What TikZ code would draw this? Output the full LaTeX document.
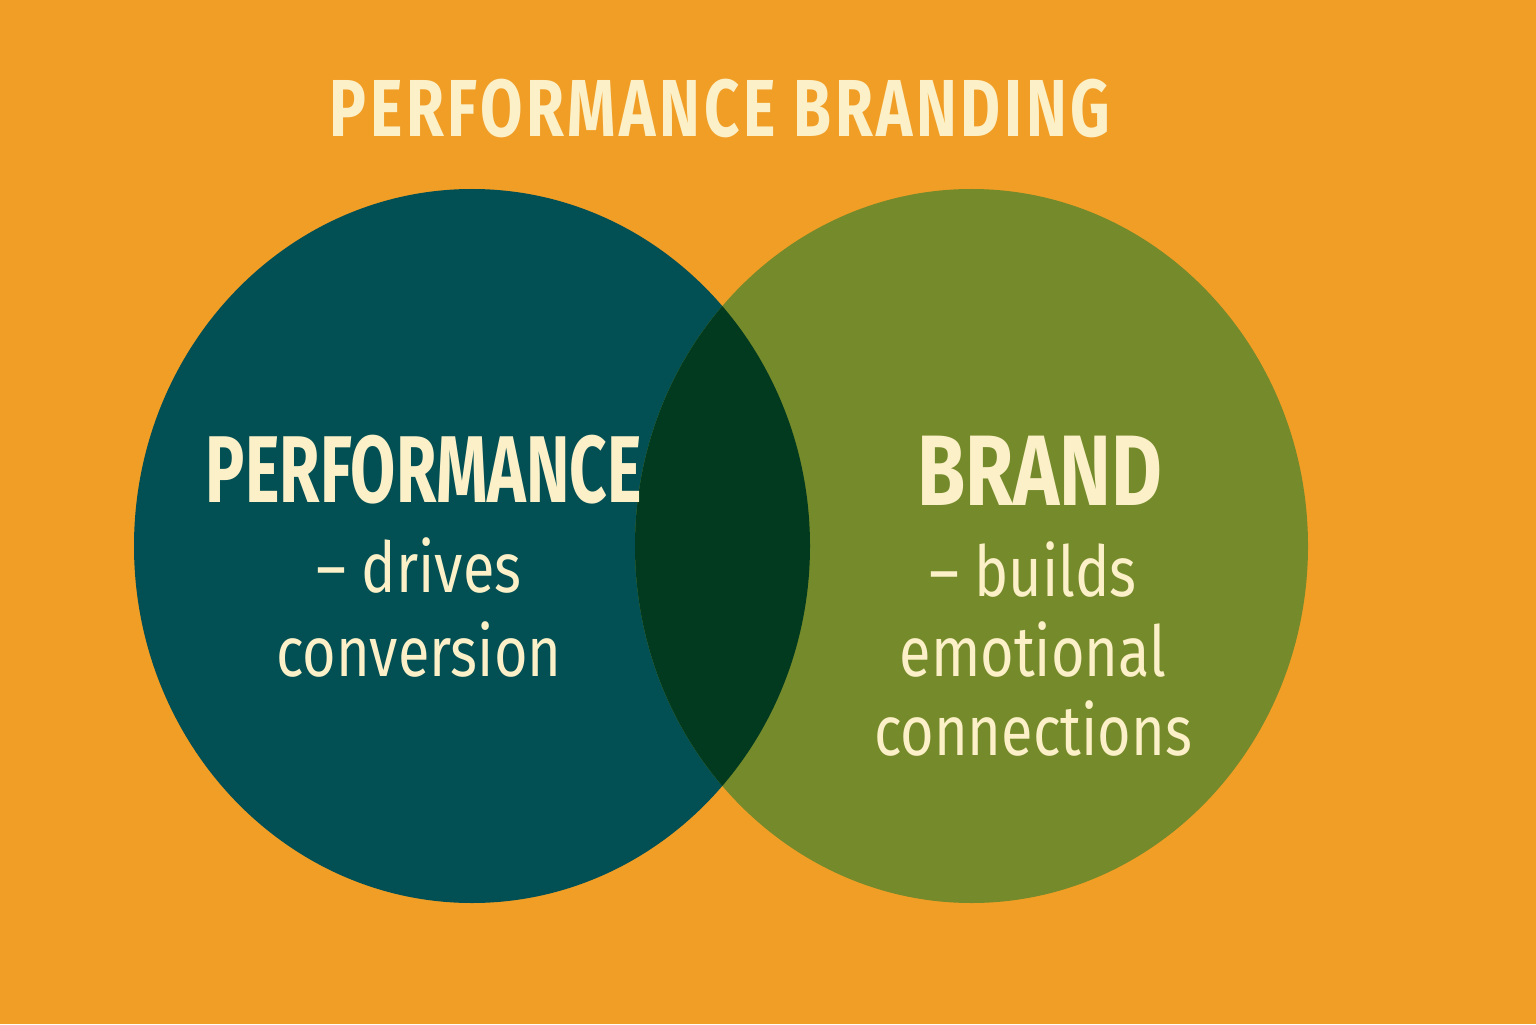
\documentclass[tikz,border=0pt]{standalone}
\usepackage{fontspec}
\newfontfamily\bodyfont[FakeStretch=0.82]{Fira Sans}
\newfontfamily\headfont[FakeStretch=0.69]{Fira Sans}
\newfontfamily\brandfont[FakeStretch=0.78]{Fira Sans}
\newfontfamily\titlefont[FakeStretch=0.76, LetterSpace=4.5]{Fira Sans}
\definecolor{bgorange}{HTML}{F19E26}
\definecolor{perfteal}{HTML}{024F54}
\definecolor{brandgreen}{HTML}{758A2A}
\definecolor{overlap}{HTML}{013A1E}
\definecolor{cream}{HTML}{FBF0C8}
\tikzset{
  headtext/.style={anchor=base, text=cream, font=\headfont\bfseries\fontsize{27}{30}\selectfont, inner sep=0pt},
  bodytext/.style={anchor=base, text=cream, font=\bodyfont\fontsize{20}{23}\selectfont, inner sep=0pt},
}
\begin{document}
\begin{tikzpicture}

\fill[bgorange] (0, 0) rectangle (15.36, 10.24);
\useasboundingbox (0, 0) rectangle (15.36, 10.24);

\fill[perfteal] (4.72, 4.78) ellipse [x radius=3.38, y radius=3.57];
\fill[brandgreen] (9.715, 4.78) ellipse [x radius=3.365, y radius=3.57];
\begin{scope}
\clip (4.72, 4.78) ellipse [x radius=3.38, y radius=3.57];
\fill[overlap] (9.715, 4.78) ellipse [x radius=3.365, y radius=3.57];
\end{scope}

\node[headtext, font=\titlefont\bfseries\fontsize{23}{26}\selectfont] (title) at (7.20, 8.87) {PERFORMANCE BRANDING};

\node[headtext] (perf) at (4.24, 5.22) {PERFORMANCE};
\foreach \y/\text [count=\i] in {
	4.32/– drives,
	3.48/conversion}
\node[bodytext] (perf\i) at (4.19, \y) {\text};

\node[headtext, font=\brandfont\bfseries\fontsize{28.5}{31}\selectfont] (brand) at (10.40, 5.19) {BRAND};
\foreach \y/\text [count=\i] in {
	4.28/– builds,
	3.48/emotional,
	2.69/connections}
\node[bodytext] (brand\i) at (10.33, \y) {\text};

\end{tikzpicture}
\end{document}
